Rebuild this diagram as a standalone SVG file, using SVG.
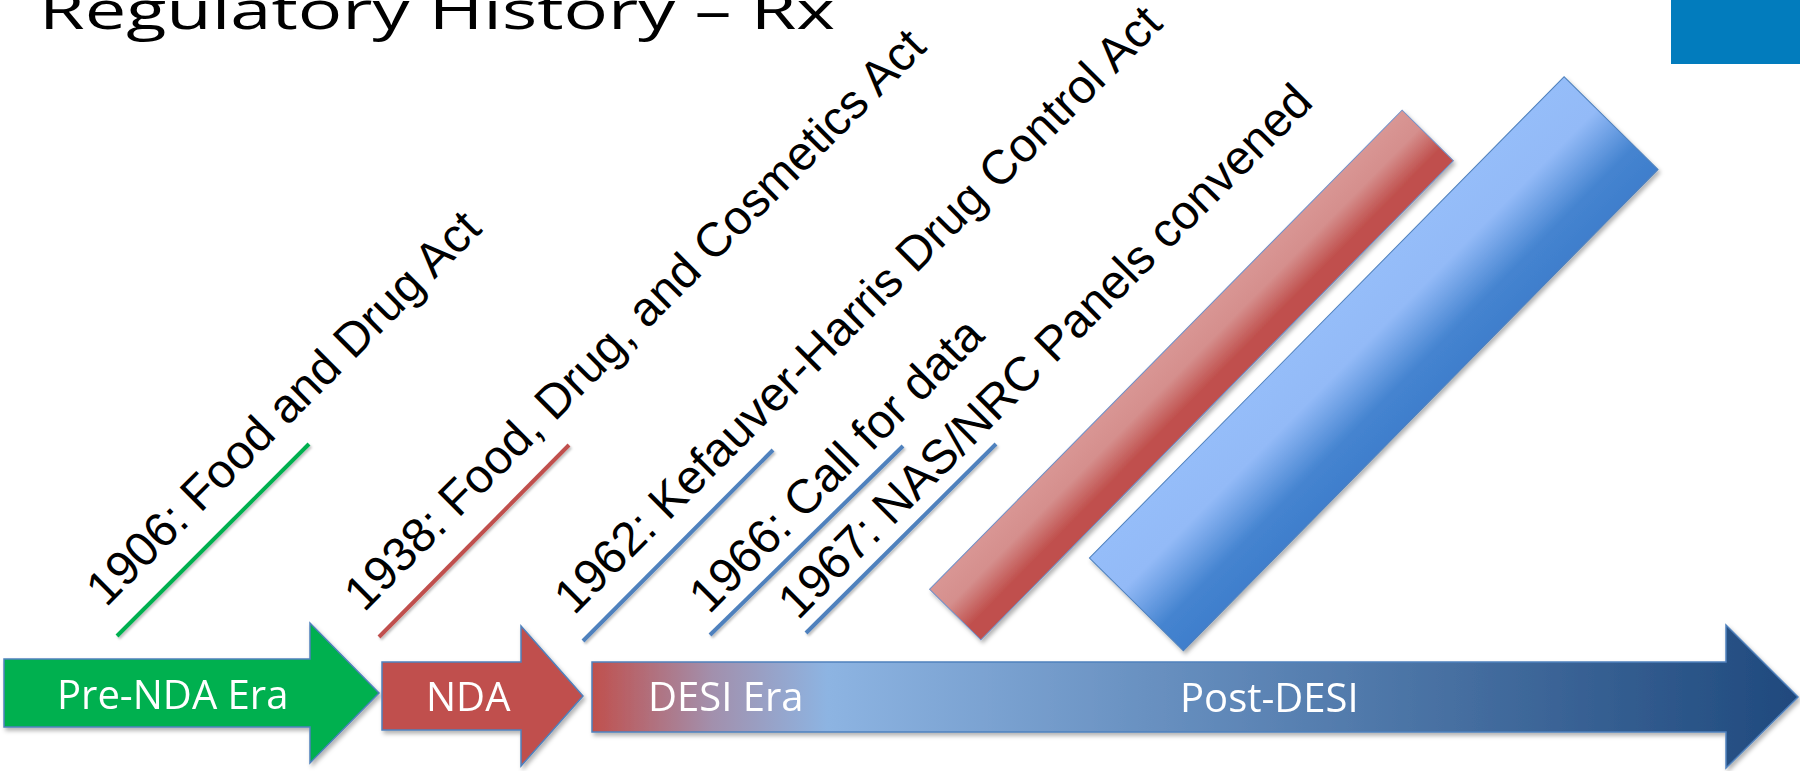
<svg xmlns="http://www.w3.org/2000/svg" width="1800" height="771" viewBox="0 0 1800 771">
  <defs>
    <style>
      .title { font-family: "Open Sans", "Liberation Sans", sans-serif; font-size: 53px; fill: #000; }
      .lbl { font-family: "Liberation Sans", Arial, sans-serif; font-size: 48px; fill: #000; }
      .era { font-family: "Open Sans", "Liberation Sans", sans-serif; font-size: 40px; fill: #fff; }
      .tick { stroke-width: 4; stroke-linecap: butt; }
      .arrow { stroke: #4F81BD; stroke-width: 1.5; }
    </style>
    <linearGradient id="gDesi" gradientUnits="userSpaceOnUse" x1="592" y1="0" x2="1798" y2="0">
      <stop offset="0" stop-color="#C0504D"/>
      <stop offset="0.1" stop-color="#A290AD"/>
      <stop offset="0.195" stop-color="#8DB4E2"/>
      <stop offset="1" stop-color="#1F497D"/>
    </linearGradient>
    <linearGradient id="gRed" x1="0" y1="0" x2="0" y2="1">
      <stop offset="0" stop-color="#D99694"/>
      <stop offset="0.35" stop-color="#D58F8D"/>
      <stop offset="0.75" stop-color="#C0504D"/>
      <stop offset="1" stop-color="#C0504D"/>
    </linearGradient>
    <linearGradient id="gBlue" x1="0" y1="0" x2="0" y2="1">
      <stop offset="0" stop-color="#95BDF9"/>
      <stop offset="0.35" stop-color="#93BAF7"/>
      <stop offset="0.75" stop-color="#4584D0"/>
      <stop offset="1" stop-color="#3F7ECC"/>
    </linearGradient>
    <filter id="sh" x="-10%" y="-10%" width="130%" height="130%">
      <feDropShadow dx="2" dy="3" stdDeviation="2" flood-color="#000" flood-opacity="0.3"/>
    </filter>
    <filter id="shl" x="-10%" y="-10%" width="130%" height="130%">
      <feDropShadow dx="1.5" dy="2" stdDeviation="1.2" flood-color="#000" flood-opacity="0.25"/>
    </filter>
  </defs>
  <rect width="1800" height="771" fill="#fff"/>

  <g id="title">
    <text class="title" x="39" y="29" textLength="796" lengthAdjust="spacingAndGlyphs">Regulatory History – Rx</text>
  </g>
  <g id="corner-block">
    <rect x="1671" y="0" width="129" height="64" fill="#027CBD"/>
  </g>

  <g id="band-red" filter="url(#sh)">
    <rect x="-336.5" y="-36" width="673" height="72" fill="url(#gRed)" stroke="#6F8FC8" stroke-width="1" transform="translate(1191.5 375) rotate(-45.4)"/>
  </g>
  <g id="band-blue" filter="url(#sh)">
    <rect x="-338" y="-66" width="676" height="132" fill="url(#gBlue)" stroke="#4F81BD" stroke-width="1" transform="translate(1373.75 363.75) rotate(-45.4)"/>
  </g>

  <g id="connectors" filter="url(#shl)">
    <line class="tick" x1="117" y1="636" x2="309" y2="444" stroke="#00B050"/>
    <line class="tick" x1="379" y1="637" x2="569" y2="445" stroke="#C0504D"/>
    <line class="tick" x1="583" y1="641" x2="773" y2="450" stroke="#4F81BD"/>
    <line class="tick" x1="710" y1="635" x2="903" y2="446" stroke="#4F81BD"/>
    <line class="tick" x1="806" y1="633" x2="996" y2="444" stroke="#4F81BD"/>
  </g>

  <g id="label-1906">
    <text class="lbl" x="106" y="608" transform="rotate(-45 106 608)">1906: Food and Drug Act</text>
  </g>
  <g id="label-1938">
    <text class="lbl" x="364" y="613" transform="rotate(-45 364 613)">1938: Food, Drug, and Cosmetics Act</text>
  </g>
  <g id="label-1962">
    <text class="lbl" x="574" y="616" transform="rotate(-45 574 616)">1962: Kefauver-Harris Drug Control Act</text>
  </g>
  <g id="label-1966">
    <text class="lbl" x="709" y="615" transform="rotate(-45 709 615)">1966: Call for data</text>
  </g>
  <g id="label-1967">
    <text class="lbl" x="798" y="621" transform="rotate(-45 798 621)">1967: NAS/NRC Panels convened</text>
  </g>

  <g id="arrow-pre-nda" filter="url(#sh)">
    <path class="arrow" d="M4 659 H310 V623 L379 693 L310 763 V727 H4 Z" fill="#00B050"/>
    <text class="era" x="57" y="709">Pre-NDA Era</text>
  </g>
  <g id="arrow-nda" filter="url(#sh)">
    <path class="arrow" d="M382 662 H521 V626 L583 696 L521 766 V730 H382 Z" fill="#C0504D"/>
    <text class="era" x="426" y="711">NDA</text>
  </g>
  <g id="arrow-desi" filter="url(#sh)">
    <path class="arrow" d="M592 662 H1726 V625 L1798 697 L1726 768 V732 H592 Z" fill="url(#gDesi)"/>
    <text class="era" x="648" y="711">DESI Era</text>
    <text class="era" x="1180" y="712">Post-DESI</text>
  </g>
</svg>
